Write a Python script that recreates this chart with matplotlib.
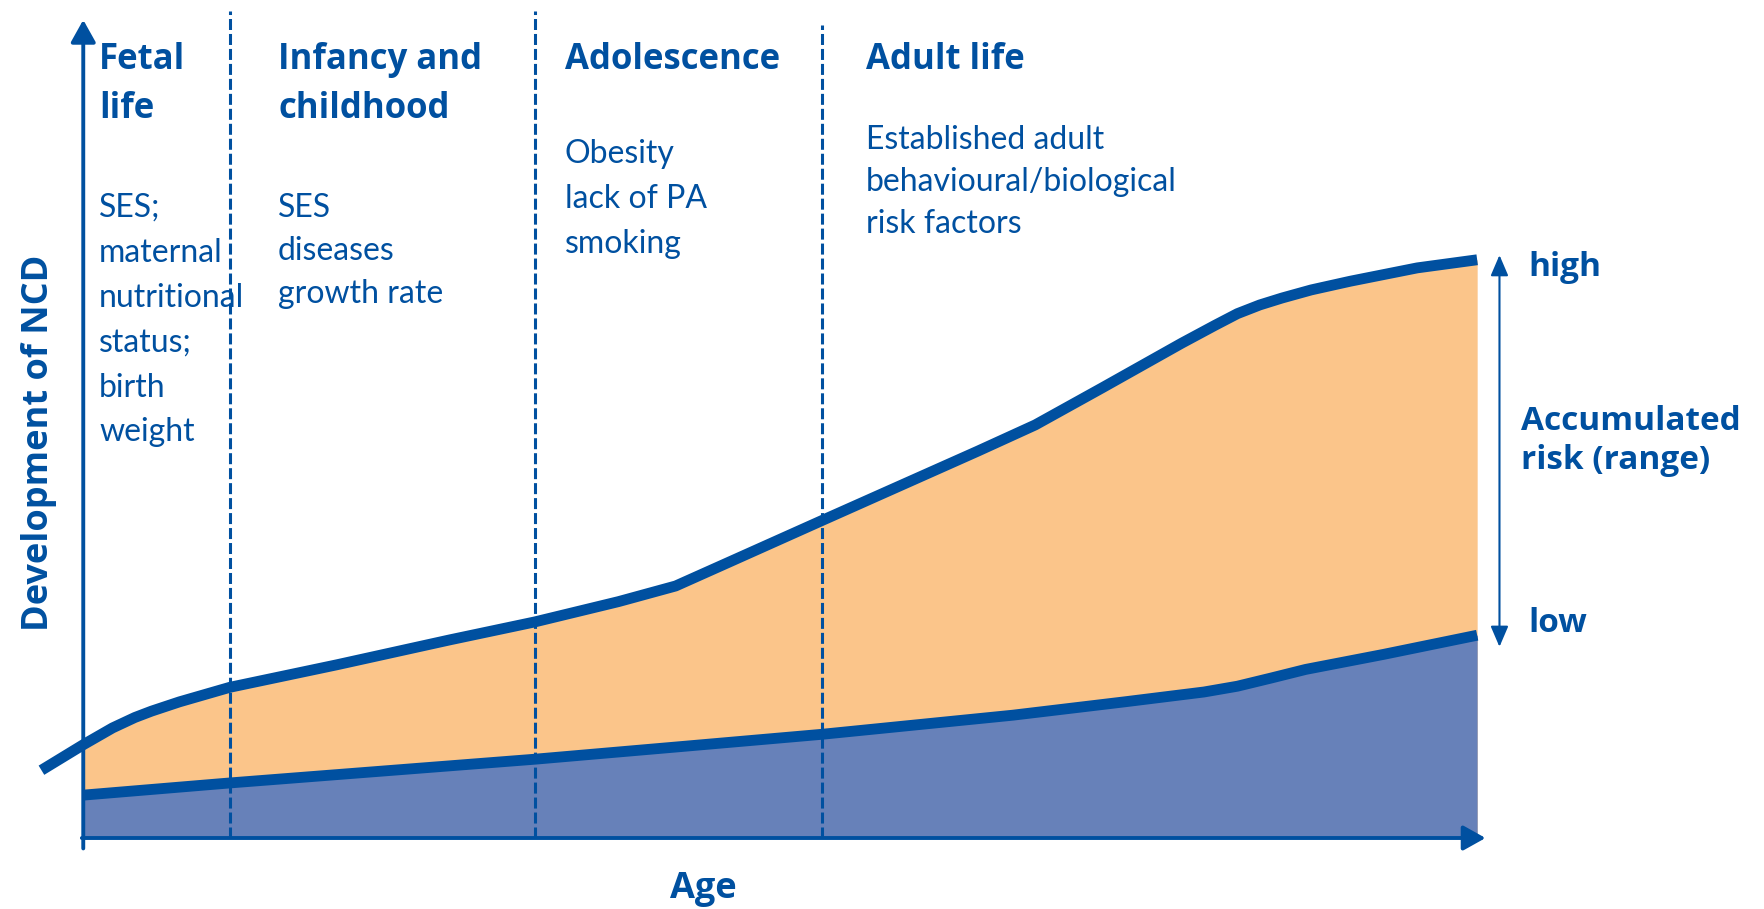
import matplotlib
matplotlib.use("Agg")
import matplotlib.pyplot as plt

# Upper curve (accumulated risk, high) - age vs development
upper_age = [-3.0, 0.0, 2.1, 3.7, 4.9, 6.9, 10.5, 18.2, 26.3, 32.4, 38.4, 42.5,
             46.5, 53.0, 58.6, 64.2, 68.3, 73.1, 78.8, 81.2, 82.8, 84.4, 86.0,
             88.1, 90.9, 95.7, 100.0]
upper_dev = [11.7, 16.1, 19.0, 20.8, 21.9, 23.5, 26.0, 29.9, 34.2, 37.3, 40.8, 43.5,
             47.8, 54.8, 60.8, 66.8, 71.3, 77.7, 85.4, 88.5, 90.5, 92.0, 93.2,
             94.6, 96.1, 98.4, 99.8]

# Lower curve (accumulated risk, low)
lower_age = [0.0, 10.5, 32.4, 42.5, 53.0, 66.7, 74.7, 80.4, 82.8, 85.2, 87.7,
             93.3, 100.0]
lower_dev = [7.4, 9.5, 13.6, 15.7, 17.9, 21.2, 23.5, 25.2, 26.2, 27.6, 29.1,
             31.7, 35.0]

# Life-course phase boundaries (age units) and their top ends
phase_bounds = [10.5, 32.4, 53.0]
phase_tops = [142.7, 142.7, 140.4]

headings = ["Fetal\nlife", "Infancy and\nchildhood", "Adolescence", "Adult life"]
details = [
    "SES;\nmaternal\nnutritional\nstatus;\nbirth\nweight",
    "SES\ndiseases\ngrowth rate",
    "Obesity\nlack of PA\nsmoking",
    "Established adult\nbehavioural/biological\nrisk factors",
]

DARK = "#0050A0"
ORANGE = "#FBC58A"
BLUE = "#6781B9"

W, H = 1764, 909
fig = plt.figure(figsize=(W / 100, H / 100), dpi=100)
ax = fig.add_axes([0.0472, 0.0781, 0.7902, 0.6374])
ax.set_xlim(0, 100)
ax.set_ylim(0, 100)
ax.axis("off")


def px(x, y):
    # full-size pixel position -> figure fraction
    return x / W, 1 - y / H


# fills, only inside the axis range
ua = [a for a in upper_age if a >= 0]
ud = [d for a, d in zip(upper_age, upper_dev) if a >= 0]
ax.fill_between(ua, ud, 0, color=ORANGE, lw=0, zorder=1)
ax.fill_between(lower_age, lower_dev, 0, color=BLUE, lw=0, zorder=2)

# phase separators
for xb, top in zip(phase_bounds, phase_tops):
    ax.plot([xb, xb], [0, top], color=DARK, lw=2.2, ls=(0, (3.6, 1.3)),
            clip_on=False, zorder=3)

# curves
for xs, ys in [(upper_age, upper_dev), (lower_age, lower_dev)]:
    ax.plot(xs, ys, color=DARK, lw=7.8, solid_capstyle="butt",
            solid_joinstyle="round", clip_on=False, zorder=4)

# axes arrows
arrow_kw = dict(arrowstyle="-|>,head_length=0.68,head_width=0.38", lw=2.8,
                color=DARK, mutation_scale=20, shrinkA=0, shrinkB=0)
ax.annotate("", xy=(0, 141.2), xytext=(0, -1.8), arrowprops=arrow_kw,
            annotation_clip=False, zorder=5)
ax.annotate("", xy=(100.6, 0), xytext=(-0.1, 0), arrowprops=arrow_kw,
            annotation_clip=False, zorder=5)

# accumulated risk range arrow
ax.annotate("", xy=(101.6, 100.6), xytext=(101.6, 33.0),
            arrowprops=dict(arrowstyle="<|-|>,head_length=0.7,head_width=0.3",
                            lw=1.5, color=DARK, mutation_scale=18,
                            shrinkA=0, shrinkB=0),
            annotation_clip=False)

bold = dict(family=["Open Sans", "DejaVu Sans"], weight="bold", color=DARK)
plain = dict(family=["Lato", "DejaVu Sans"], color=DARK)

head_x = [99, 278, 565, 866]
for t, x in zip(headings, head_x):
    fig.text(*px(x, 42), t, fontsize=25, ha="left", va="top",
             linespacing=1.5, **bold)

det_y = [193, 193, 139, 125]
det_ls = [1.62, 1.55, 1.62, 1.5]
for t, x, y, ls in zip(details, head_x, det_y, det_ls):
    fig.text(*px(x, y), t, fontsize=23, ha="left", va="top",
             linespacing=ls, **plain)

fig.text(*px(39, 443), "Development of NCD", fontsize=26, rotation=90,
         ha="center", va="center", **bold)
fig.text(*px(703, 889), "Age", fontsize=26, ha="center", va="center", **bold)

fig.text(*px(1528, 268), "high", fontsize=24, ha="left", va="center", **bold)
fig.text(*px(1521, 441), "Accumulated\nrisk (range)", fontsize=24, ha="left",
         va="center", linespacing=1.25, **bold)
fig.text(*px(1528, 624), "low", fontsize=24, ha="left", va="center", **bold)

fig.savefig("out.png", dpi=100, facecolor="white")
